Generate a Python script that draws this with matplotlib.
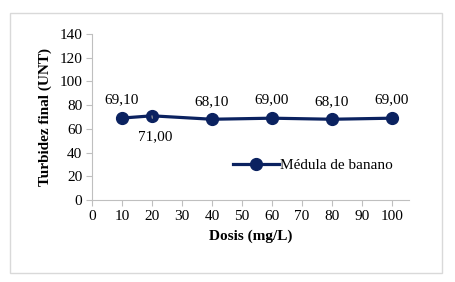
import matplotlib.pyplot as plt
from matplotlib.patches import Rectangle

# data
dosis = [10, 20, 40, 60, 80, 100]
turbidez = [69.10, 71.00, 68.10, 69.00, 68.10, 69.00]
etiquetas = ["69,10", "71,00", "68,10", "69,00", "68,10", "69,00"]
serie = "Médula de banano"

navy = "#0b2260"
gray = "#bfbfbf"
fs = 11
plt.rcParams['font.family'] = ['Liberation Serif', 'DejaVu Serif']

fig = plt.figure(figsize=(4.55, 2.82), dpi=100)
fig.patches.append(Rectangle((10 / 455, 1 - 273 / 282), 432 / 455, 260 / 282,
                             transform=fig.transFigure, fill=False,
                             edgecolor="#d9d9d9", linewidth=1))

ax = fig.add_axes([92 / 455, 1 - 200 / 282, 317 / 455, 166 / 282])
ax.plot(dosis, turbidez, color=navy, linewidth=2.3, marker='o',
        markersize=8.5, label=serie, clip_on=False)

for i, (x, y, t) in enumerate(zip(dosis, turbidez, etiquetas)):
    if i == 1:
        ax.annotate(t, (x, y), xytext=(x + 1, y - 18), ha='center', va='center',
                    fontsize=fs, color='black',
                    arrowprops=dict(arrowstyle='-', color='#a6a6a6', lw=0.8,
                                    shrinkA=7, shrinkB=0))
    else:
        ax.annotate(t, (x, y), xytext=(0, 13), textcoords='offset points',
                    ha='center', va='center', fontsize=fs, color='black')

ax.set_xlim(0, 105.7)
ax.set_ylim(0, 140)
ax.set_xticks(range(0, 101, 10))
ax.set_yticks(range(0, 141, 20))
for s in ['top', 'right']:
    ax.spines[s].set_visible(False)
for s in ['left', 'bottom']:
    ax.spines[s].set_color(gray)
ax.tick_params(direction='out', length=4, color=gray, labelsize=fs, pad=3)

ax.set_xlabel("Dosis (mg/L)", fontsize=fs, fontweight='bold', labelpad=5)
ax.set_ylabel("Turbidez final (UNT)", fontsize=fs, fontweight='bold', labelpad=5)

ax.legend(loc='center left', bbox_to_anchor=(0.42, 0.21), frameon=False,
          fontsize=fs, handlelength=3, handletextpad=0.1, borderpad=0)

fig.savefig("out.png", dpi=100)
